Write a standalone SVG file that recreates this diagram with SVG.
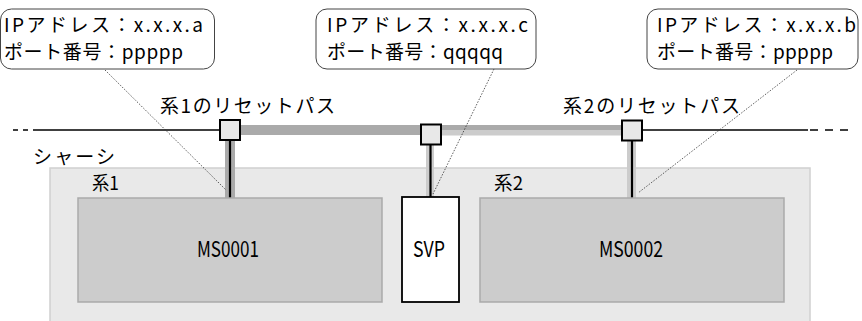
<svg xmlns="http://www.w3.org/2000/svg" width="862" height="321" viewBox="0 0 862 321">
<style>
text{font-family:"Noto Sans CJK JP","Liberation Sans",sans-serif;fill:#000}
.co{fill:#fff;stroke:#444;stroke-width:1}
.ct{font-size:19px}
.lb{font-size:19px}
.bx{font-size:22px}
.sq{fill:#e8e8e8;stroke:#000;stroke-width:2}
.ms{fill:#cccccc;stroke:#aaaaaa;stroke-width:1.5}
.ld{fill:none;stroke:#333;stroke-width:0.8;stroke-dasharray:1.5 1.5}
.bus{stroke:#000;stroke-width:1.6;fill:none}
</style>
<rect width="862" height="321" fill="#fff"/>
<g id="chassis">
<rect x="50" y="168" width="760" height="160" fill="#e9e9e9" stroke="#d0d0d0" stroke-width="1.5"/>
<text class="lb" x="33" y="164" textLength="82" lengthAdjust="spacing">シャーシ</text>
</g>
<g id="sys-labels">
<text class="lb" x="92" y="190" textLength="27" lengthAdjust="spacingAndGlyphs">系1</text>
<text class="lb" x="494" y="190" textLength="29" lengthAdjust="spacingAndGlyphs">系2</text>
</g>
<g id="connectors">
<line class="bus" x1="13" y1="130" x2="28" y2="130" stroke-dasharray="5 5"/>
<line class="bus" x1="33" y1="130" x2="220" y2="130"/>
<line class="bus" x1="642" y1="130" x2="808" y2="130"/>
<line class="bus" x1="810" y1="130" x2="850" y2="130" stroke-dasharray="8 7"/>
<rect x="240" y="125" width="181" height="10" fill="#aaaaaa"/>
<rect x="441" y="125" width="181" height="5" fill="#aaaaaa"/>
<rect x="441" y="130" width="181" height="5.5" fill="#cccccc"/>
<rect x="225" y="140" width="10" height="58" fill="#aaaaaa"/>
<rect x="426" y="145" width="8" height="52" fill="#cccccc"/>
<rect x="627" y="141" width="9" height="57" fill="#cccccc"/>
<line x1="230" y1="140" x2="230" y2="198" stroke="#000" stroke-width="2.2"/>
<line x1="430.5" y1="145" x2="430.5" y2="197" stroke="#000" stroke-width="2.2"/>
<line x1="632" y1="141" x2="632" y2="198" stroke="#000" stroke-width="2.2"/>
<line class="ld" x1="105" y1="70" x2="226" y2="190"/>
<line class="ld" x1="494" y1="69" x2="433" y2="194"/>
<line class="ld" x1="797" y1="70" x2="638" y2="193"/>
</g>
<g id="sq1"><rect class="sq" x="220" y="120" width="20" height="20"/></g>
<g id="sq-svp"><rect class="sq" x="421" y="124.5" width="20" height="20"/></g>
<g id="sq2"><rect class="sq" x="622" y="120.5" width="20" height="20"/></g>
<g id="path-labels">
<text class="lb" x="160" y="113" textLength="175" lengthAdjust="spacing">系1のリセットパス</text>
<text class="lb" x="563" y="113" textLength="177" lengthAdjust="spacing">系2のリセットパス</text>
</g>
<g id="ms0001">
<rect class="ms" x="78" y="198" width="304" height="104"/>
<text class="bx" x="197" y="257" textLength="62" lengthAdjust="spacingAndGlyphs">MS0001</text>
</g>
<g id="svp">
<rect x="402" y="197" width="57" height="105" fill="#fff" stroke="#000" stroke-width="1.8"/>
<text class="bx" x="413" y="257" textLength="32" lengthAdjust="spacingAndGlyphs">SVP</text>
</g>
<g id="ms0002">
<rect class="ms" x="480" y="198" width="304" height="104"/>
<text class="bx" x="599" y="257" textLength="64" lengthAdjust="spacingAndGlyphs">MS0002</text>
</g>
<g id="callout-a">
<rect class="co" x="0.5" y="9" width="214" height="60" rx="11"/>
<text class="ct" x="4" y="32" textLength="199" lengthAdjust="spacing">IPアドレス：x.x.x.a</text>
<text class="ct" x="4" y="59" textLength="179" lengthAdjust="spacing">ポート番号：ppppp</text>
</g>
<g id="callout-c">
<rect class="co" x="316" y="9" width="220" height="60" rx="11"/>
<text class="ct" x="327" y="32" textLength="201" lengthAdjust="spacing">IPアドレス：x.x.x.c</text>
<text class="ct" x="327" y="59" textLength="176" lengthAdjust="spacing">ポート番号：qqqqq</text>
</g>
<g id="callout-b">
<rect class="co" x="647" y="9" width="211" height="60" rx="11"/>
<text class="ct" x="657" y="32" textLength="199" lengthAdjust="spacing">IPアドレス：x.x.x.b</text>
<text class="ct" x="657" y="59" textLength="176" lengthAdjust="spacing">ポート番号：ppppp</text>
</g>
</svg>
